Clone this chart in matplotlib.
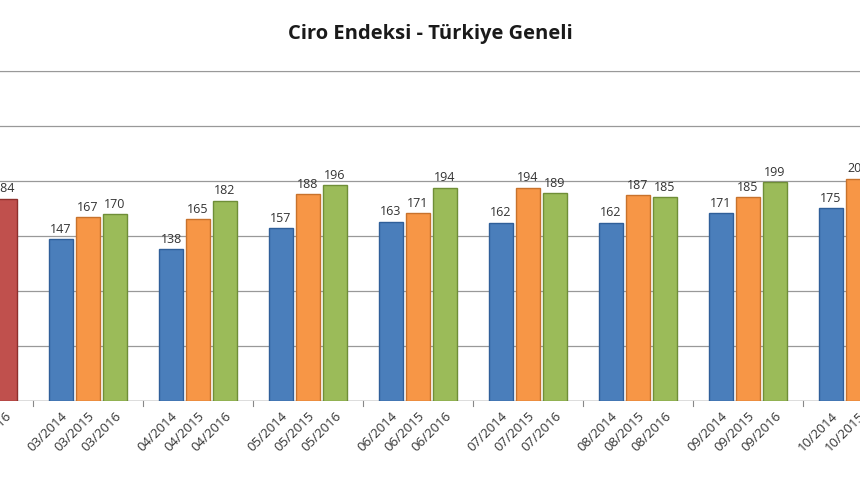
import matplotlib
matplotlib.use("Agg")
import matplotlib.pyplot as plt

months = ["02", "03", "04", "05", "06", "07", "08", "09", "10"]
v2014 = [None, 147, 138, 157, 163, 162, 162, 171, 175]
v2015 = [None, 167, 165, 188, 171, 194, 187, 185, 202]
v2016 = [184, 170, 182, 196, 194, 189, 185, 199, None]

plt.rcParams['font.family'] = ['Open Sans', 'DejaVu Sans']
fig = plt.figure(figsize=(8.6, 4.8), dpi=100)
fig.text(0.5, 0.93, "Ciro Endeksi - Türkiye Geneli", ha='center', va='center',
         fontsize=14.5, fontweight='bold', color='#1a1a1a')
ax = fig.add_axes([0, 0.1646, 1, 0.6875])

off = 0.245
w = 0.22
series = [(v2014, -off, '#4a7ebb', '#2f5f99', '2014'),
          (v2015, 0, '#f79646', '#c8722c', '2015'),
          (v2016, off, '#9bbb59', '#6f8e37', '2016')]
ticks, labels = [], []
for i, m in enumerate(months):
    for vals, o, c, ec, yr in series:
        v = vals[i]
        if v is None:
            continue
        col, ecol = (c, ec)
        if m == "02" and yr == "2016":
            col, ecol = '#c0504d', '#8e2f2c'
        ax.bar(i + o, v, width=w, color=col, edgecolor=ecol, linewidth=1, zorder=3)
        ax.text(i + o, v + 3, str(v), ha='center', va='bottom', fontsize=9, color='#333333', zorder=4)
        ticks.append(i + o)
        labels.append(f"{m}/{yr}")

ax.set_xticks(ticks)
ax.set_xticklabels(labels, rotation=45, ha='right', rotation_mode='anchor', fontsize=9.5, color='#333333')
ax.tick_params(axis='x', length=0, pad=6)
for g in range(len(months) + 1):
    ax.plot([g - 0.5, g - 0.5], [0, -5], color='#888888', lw=0.8, clip_on=False)
ax.set_xlim(0.2, 8.018)
ax.set_ylim(0, 300)
ax.set_yticks(range(0, 301, 50))
ax.set_yticklabels([])
ax.tick_params(axis='y', length=0)
ax.grid(axis='y', color='#999999', lw=0.9, zorder=0)
for s in ['left', 'right', 'bottom']:
    ax.spines[s].set_visible(False)
ax.spines['top'].set_color('#999999')
ax.axhline(0, color='#888888', lw=1, zorder=2)
fig.savefig("out.png", dpi=100)
